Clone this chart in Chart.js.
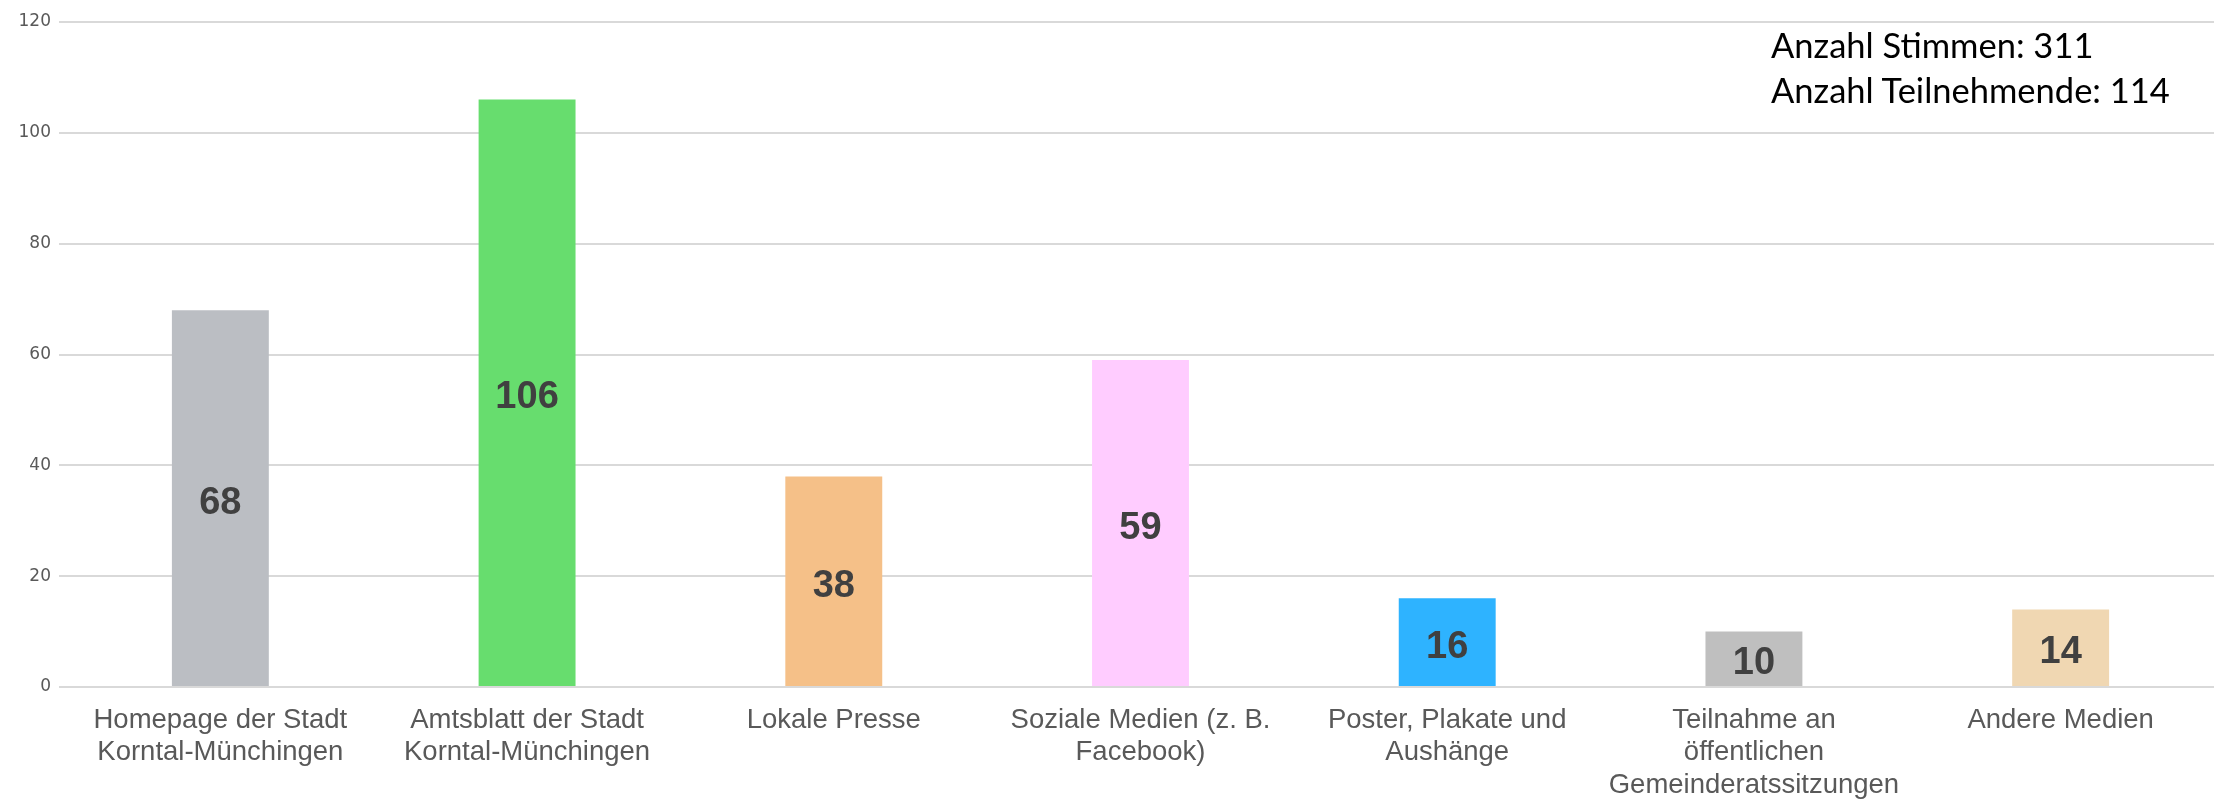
<html>
<head>
  <title>Anzahl Stimmen</title>
  <script src="https://cdn.jsdelivr.net/npm/chart.js"></script>
  <style>
    body { margin: 0; background: white; }
    #box { position: relative; width: 2214px; height: 800px; overflow: hidden; }
    #info {
      position: absolute; left: 1771px; top: 22px;
      font-family: Lato, "Open Sans", sans-serif; font-size: 34.5px;
      line-height: 45px; color: black;
    }
  </style>
</head>
<body>
  <div id="box">
    <canvas id="grafico" width="2214" height="800"></canvas>
    <div id="info">Anzahl Stimmen: 311<br>Anzahl Teilnehmende: 114</div>
  </div>
  <script>
    // categorie (etichette su piu righe)
    var categorie = [
      ['Homepage der Stadt', 'Korntal-Münchingen'],
      ['Amtsblatt der Stadt', 'Korntal-Münchingen'],
      'Lokale Presse',
      ['Soziale Medien (z. B.', 'Facebook)'],
      ['Poster, Plakate und', 'Aushänge'],
      ['Teilnahme an', 'öffentlichen', 'Gemeinderatssitzungen'],
      'Andere Medien'
    ];
    var stimmen = [68, 106, 38, 59, 16, 10, 14];
    var farben = ['#BBBEC3', '#67DD6E', '#F5C088', '#FFCCFF', '#2EB3FF', '#BFBFBF', '#F0D7B2'];
    var yTicks = [0, 20, 40, 60, 80, 100, 120];

    // plugin per scrivere il valore al centro di ogni barra
    var valoriPlugin = {
      id: 'valori',
      afterDatasetsDraw: function (chart) {
        var ctx = chart.ctx;
        var meta = chart.getDatasetMeta(0);
        ctx.save();
        ctx.font = 'bold 38px "Liberation Sans", Arial, sans-serif';
        ctx.fillStyle = '#404040';
        ctx.textAlign = 'center';
        ctx.textBaseline = 'middle';
        meta.data.forEach(function (bar, i) {
          ctx.fillText(String(stimmen[i]), bar.x, (bar.y + bar.base) / 2 + 5);
        });
        ctx.restore();
      }
    };

    new Chart(document.getElementById('grafico'), {
      type: 'bar',
      data: {
        labels: categorie,
        datasets: [{
          data: stimmen,
          backgroundColor: farben,
          borderWidth: 0,
          barPercentage: 0.316,
          categoryPercentage: 1
        }]
      },
      plugins: [valoriPlugin],
      options: {
        responsive: false,
        animation: false,
        layout: { padding: { top: 22, right: -6, left: 0, bottom: 0 } },
        plugins: { legend: { display: false }, tooltip: { enabled: false } },
        scales: {
          x: {
            afterFit: function (scale) { scale.height = 113; },
            grid: { display: false, drawTicks: false },
            border: { display: true, color: '#D9D9D9', width: 2 },
            ticks: {
              maxRotation: 0, autoSkip: false, padding: 17,
              color: '#595959',
              font: { family: '"Liberation Sans", Arial, sans-serif', size: 27.5, lineHeight: 1.18 }
            }
          },
          y: {
            min: 0, max: 120,
            afterFit: function (scale) { scale.width = 67; },
            afterBuildTicks: function (scale) {
              scale.ticks = yTicks.map(function (v) { return { value: v }; });
            },
            grid: { color: '#D9D9D9', lineWidth: 2, drawTicks: true, tickLength: 8 },
            border: { display: false },
            ticks: {
              padding: 8,
              color: '#595959',
              font: { family: '"DejaVu Sans", Verdana, sans-serif', size: 17 }
            }
          }
        }
      }
    });
  </script>
</body>
</html>
